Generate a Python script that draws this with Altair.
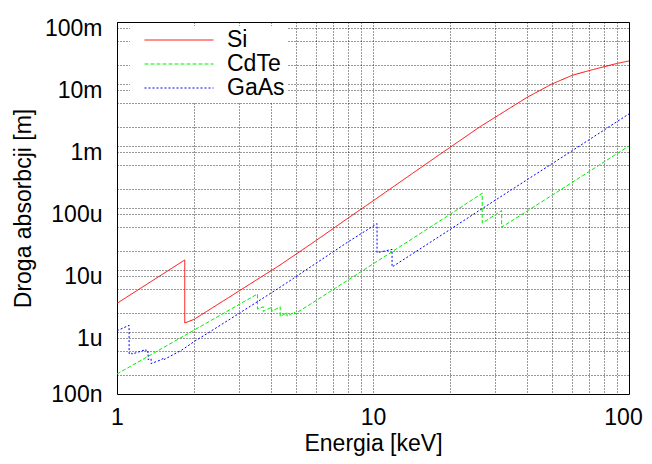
import altair as alt
import pandas as pd

# ---- data ----
materials = ["Si", "CdTe", "GaAs"]

si_E = [1.0, 1.839, 1.839, 1.9, 2.0, 2.3, 3.0, 4.33, 6.0, 8.0, 10.0, 13.1, 18.3, 20.0,
        26.2, 30.0, 40.0, 50.0, 60.0, 70.0, 80.0, 90.0, 100.0]
si_L = [2.9e-6, 1.45e-5, 1.4e-6, 1.47e-6, 1.6e-6, 2.3e-6, 4.6e-6, 1.2e-5, 3.0e-5, 6.9e-5,
        1.3e-4, 2.83e-4, 7.4e-4, 9.5e-4, 2.05e-3, 2.9e-3, 6.1e-3, 1.0e-2, 1.38e-2, 1.65e-2,
        1.9e-2, 2.15e-2, 2.35e-2]

cdte_E = [1.0, 3.538, 3.538, 3.727, 3.727, 4.018, 4.018, 4.341, 4.341, 4.612, 4.612, 4.939,
          4.939, 5.84, 10.0, 20.0, 26.71, 26.71, 31.81, 31.81, 50.0, 100.0]
cdte_L = [2.1e-7, 4.1e-6, 2.35e-6, 2.55e-6, 2.15e-6, 2.5e-6, 2.15e-6, 2.55e-6, 1.78e-6,
          2.05e-6, 1.8e-6, 2.1e-6, 1.95e-6, 3.0e-6, 1.25e-5, 7.9e-5, 1.73e-4, 5.7e-5, 9.1e-5,
          4.9e-5, 1.6e-4, 1.0e-3]

gaas_E = [1.0, 1.115, 1.115, 1.143, 1.143, 1.298, 1.298, 1.323, 1.323, 1.359, 1.359, 1.47,
          1.527, 1.527, 1.79, 2.0, 2.31, 3.0, 4.33, 6.0, 8.0, 10.37, 10.37, 11.87, 11.87, 13.7,
          20.0, 26.2, 40.0, 60.0, 100.0]
gaas_L = [1.05e-6, 1.28e-6, 4.5e-7, 4.6e-7, 4.4e-7, 5.2e-7, 4.7e-7, 4.8e-7, 3.6e-7, 3.7e-7,
          3.1e-7, 3.5e-7, 3.8e-7, 3.6e-7, 5.1e-7, 7.0e-7, 1.01e-6, 2.0e-6, 5.25e-6, 1.29e-5,
          2.85e-5, 5.6e-5, 1.9e-5, 2.15e-5, 1.12e-5, 1.64e-5, 4.5e-5, 9.3e-5, 2.86e-4, 8.4e-4,
          3.3e-3]

x_grid = [1, 2, 3, 4, 5, 6, 7, 8, 9, 10, 20, 30, 40, 50, 60, 70, 80, 90, 100]
y_grid = []
for p in range(-7, 0):
    y_grid += [10.0 ** p, 2 * 10.0 ** p, 5 * 10.0 ** p, 8 * 10.0 ** p]
y_grid.append(0.1)

rows = []
for name, E, L in [("Si", si_E, si_L), ("CdTe", cdte_E, cdte_L), ("GaAs", gaas_E, gaas_L)]:
    for i, (e, l) in enumerate(zip(E, L)):
        rows.append({"E": e, "L": l, "material": name, "i": i})
df = pd.DataFrame(rows)

FONT = "Liberation Sans"
FS = 23

ylabel_expr = (
    "datum.value < 1.5e-7 && datum.value > 0.5e-7 ? '100n' : "
    "datum.value < 1.5e-6 && datum.value > 0.5e-6 ? '1u' : "
    "datum.value < 1.5e-5 && datum.value > 0.5e-5 ? '10u' : "
    "datum.value < 1.5e-4 && datum.value > 0.5e-4 ? '100u' : "
    "datum.value < 1.5e-3 && datum.value > 0.5e-3 ? '1m' : "
    "datum.value < 1.5e-2 && datum.value > 0.5e-2 ? '10m' : "
    "datum.value < 1.5e-1 && datum.value > 0.5e-1 ? '100m' : ''"
)
xlabel_expr = "indexof([1, 10, 100], datum.value) >= 0 ? format(datum.value, 'd') : ''"

NBSP = "\u00a0"
legend_label_expr = "datum.label + '" + NBSP * 2 + "'"

chart = alt.Chart(df).mark_line(strokeWidth=1, clip=True).encode(
    x=alt.X("E:Q", title="Energia [keV]",
            scale=alt.Scale(type="log", domain=[1, 100], nice=False),
            axis=alt.Axis(values=x_grid, labelExpr=xlabel_expr, ticks=False,
                          labelFlush=False, labelPadding=12, titlePadding=3,
                          labelOffset={"condition": {"test": "datum.value >= 99", "value": -6},
                                       "value": 0},
                          domain=False)),
    y=alt.Y("L:Q", title="Droga absorbcji [m]",
            scale=alt.Scale(type="log", domain=[1e-7, 0.1], nice=False),
            axis=alt.Axis(values=y_grid, labelExpr=ylabel_expr, ticks=False,
                          labelFlush=False, labelPadding=15, titlePadding=9,
                          domain=False)),
    color=alt.Color("material:N", title=None,
                    scale=alt.Scale(domain=materials, range=["#ff0000", "#00ee00", "#0000ff"]),
                    legend=alt.Legend(orient="none", legendX=13, legendY=4, fillColor="white",
                                      padding=2, symbolType="M-3,0H3", symbolSize=529,
                                      symbolStrokeWidth=1, symbolOffset=35,
                                      labelFontSize=FS, labelFont=FONT,
                                      labelOffset=36, rowPadding=0,
                                      labelExpr=legend_label_expr)),
    strokeDash=alt.StrokeDash("material:N", title=None,
                              scale=alt.Scale(domain=materials, range=[[1, 0], [4, 2], [2, 2]])),
    order="i:Q",
).properties(
    width=512, height=372,
    autosize=alt.AutoSizeParams(type="none"),
    padding={"left": 109, "top": 14, "right": 15, "bottom": 62},
).configure_view(
    stroke="black", strokeWidth=1
).configure_axis(
    grid=True, gridColor="black", gridDash=[1, 2], gridWidth=1, gridOpacity=0.8,
    labelFont=FONT, titleFont=FONT, labelFontSize=FS, titleFontSize=FS,
    labelColor="black", titleColor="black", titleFontWeight="normal",
)

chart.save("out.html", embed_options={"renderer": "svg", "actions": False})
